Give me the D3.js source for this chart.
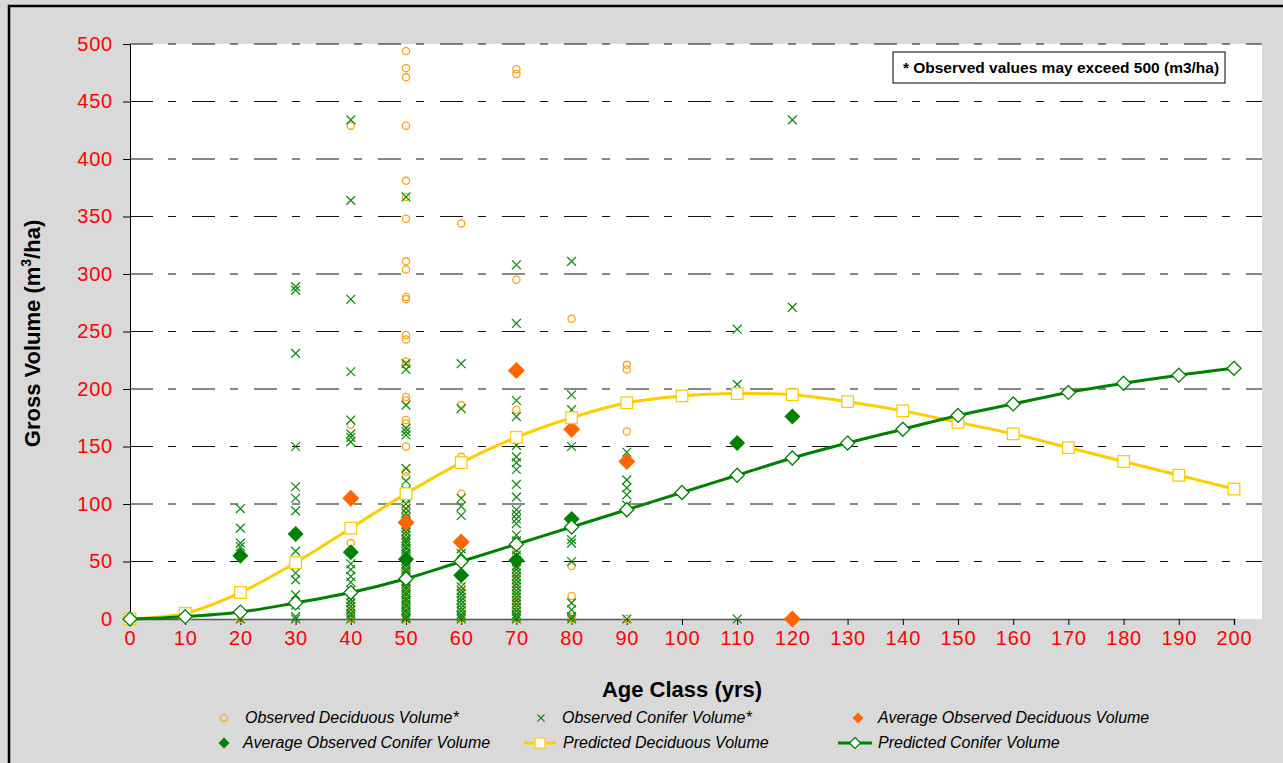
<!DOCTYPE html>
<html>
<head>
<meta charset="utf-8">
<script src="https://cdn.jsdelivr.net/npm/d3@7"></script>
<style>
  html, body { margin: 0; padding: 0; background: #ffffff; }
  svg { display: block; font-family: Arial, "Liberation Sans", sans-serif; }
</style>
</head>
<body>
<svg id="chart" width="1283" height="763"></svg>
<script>
// ---- Data -------------------------------------------------------------
const ageClasses = [0,10,20,30,40,50,60,70,80,90,100,110,120,130,140,150,160,170,180,190,200];
const yTicks = [0,50,100,150,200,250,300,350,400,450,500];

// Predicted volume curves (m3/ha) per age class
const predictedDeciduous = [0,5,23,49,79,109,136,158,175,188,194,196,195,189,181,171,161,149,137,125,113];
const predictedConifer   = [0,2,6,14,23,35,50,65,80,95,110,125,140,153,165,177,187,197,205,212,218];

// Average observed volumes
const avgDecidAges   = [40,50,60,70,80,90,120];
const avgDecidValues = [105,84,67,216,165,137,0];
const avgConifAges   = [20,30,40,50,60,70,80,110,120];
const avgConifValues = [55,74,58,52,38,51,87,153,176];

// Observed plot volumes, grouped by age class
const obsDeciduous = [
  [0,  [0]],
  [20, [0]],
  [40, [429,169,66,12,5,0]],
  [50, [494,479,471,429,381,367,348,311,304,280,278,247,243,224,221,193,190,173,170,150,128,124,
        99,90,84,78,72,67,62,58,54,50,45,40,35,30,26,22,18,15,11,8,5,3,0]],
  [60, [344,186,141,109,28,20,12,5,0]],
  [70, [478,474,295,182,60,48,40,33,25,19,15,10,5,0]],
  [80, [261,46,20,2,0]],
  [90, [221,217,163,0]]
];
const obsConifer = [
  [20, [96,79,66,63,0]],
  [30, [289,286,231,150,115,105,94,59,40,34,21,12,2,0]],
  [40, [434,364,278,215,173,161,158,154,48,43,37,32,25,20,17,14,11,8,5,3,0]],
  [50, [367,222,217,186,166,163,160,131,120,112,105,100,96,92,88,85,82,79,76,73,70,68,66,63,61,58,56,
        53,51,48,46,43,41,38,36,33,31,28,26,23,21,18,16,13,11,8,6,3,1,0]],
  [60, [222,183,105,98,90,61,57,28,25,22,19,16,13,10,7,4,2,0]],
  [70, [308,257,190,176,151,141,136,130,117,106,95,91,87,83,73,68,60,55,51,46,43,40,37,34,31,28,25,
        22,19,16,13,10,7,4,2,0]],
  [80, [311,195,182,150,69,66,50,14,8,2,0]],
  [90, [145,121,114,108,99,0]],
  [110,[252,204,0]],
  [120,[434,271]]
];

const legendLabels = [
  "Observed Deciduous Volume*", "Observed Conifer Volume*", "Average Observed  Deciduous Volume",
  "Average Observed Conifer Volume", "Predicted Deciduous Volume", "Predicted Conifer Volume"
];
const noteText = "* Observed values may exceed 500 (m3/ha)";

// ---- Styles -----------------------------------------------------------
const C = {
  bg: "#d9d9d9", obsDec: "#ffa41c", obsCon: "#158a15", avgDec: "#ff6600",
  avgCon: "#008000", predDec: "#ffcc00", predCon: "#008000", tick: "#ff0000"
};

const svg = d3.select("#chart");
const W = 1283, H = 763;
const plot = { left: 130, right: 1262, top: 44, bottom: 619 };

const x = d3.scaleLinear().domain([0, 200]).range([130, 1234]);
const y = d3.scaleLinear().domain([0, 500]).range([plot.bottom, plot.top]);

// chart area and frame
svg.append("rect").attr("x", 0).attr("y", 0).attr("width", W).attr("height", H).attr("fill", C.bg);
svg.append("rect").attr("x", 9).attr("y", 6).attr("width", W + 10).attr("height", H + 10)
  .attr("fill", "none").attr("stroke", "#000").attr("stroke-width", 2.5);

// plot area
svg.append("rect").attr("x", plot.left).attr("y", plot.top)
  .attr("width", plot.right - plot.left).attr("height", plot.bottom - plot.top)
  .attr("fill", "#ffffff");

// dashed gridlines
svg.append("g").selectAll("line").data(yTicks.filter(d => d > 0)).join("line")
  .attr("x1", plot.left).attr("x2", plot.right)
  .attr("y1", d => y(d)).attr("y2", d => y(d))
  .attr("stroke", "#111").attr("stroke-width", 1.2)
  .attr("stroke-dasharray", "23,15,8,16");

// axes
const yAxis = svg.append("g").attr("transform", `translate(${plot.left},0)`)
  .call(d3.axisLeft(y).tickValues(yTicks).tickSize(7).tickPadding(10).tickFormat(d3.format("d")));
const xAxis = svg.append("g").attr("transform", `translate(0,${plot.bottom})`)
  .call(d3.axisBottom(x).tickValues(ageClasses).tickSize(6).tickPadding(6).tickFormat(d3.format("d")));
[yAxis, xAxis].forEach(g => {
  g.selectAll("text").attr("fill", C.tick).attr("font-size", 20).attr("letter-spacing", 0.8)
    .attr("font-family", "Arial, 'Liberation Sans', sans-serif");
  g.selectAll("line").attr("stroke", "#000");
  g.select(".domain").attr("stroke", "#000");
});
xAxis.select(".domain").attr("stroke", "#555").attr("stroke-width", 1.5);

// axis titles
const yTitle = svg.append("text")
  .attr("transform", `translate(40,${(plot.top + plot.bottom) / 2 + 2}) rotate(-90)`)
  .attr("text-anchor", "middle").attr("font-size", 22).attr("font-weight", "bold");
yTitle.append("tspan").text("Gross Volume (m");
yTitle.append("tspan").attr("font-size", 14).attr("dy", -9).text("3");
yTitle.append("tspan").attr("dy", 9).text("/ha)");

svg.append("text").attr("x", 682).attr("y", 697).attr("text-anchor", "middle")
  .attr("font-size", 22).attr("font-weight", "bold").text("Age Class (yrs)");

// note box
svg.append("rect").attr("x", 893).attr("y", 52).attr("width", 332).attr("height", 31)
  .attr("fill", "#fff").attr("stroke", "#000").attr("stroke-width", 1);
svg.append("text").attr("x", 1061).attr("y", 73).attr("text-anchor", "middle")
  .attr("font-size", 15.5).attr("font-weight", "bold").text(noteText);

// ---- marker helpers ----
const diamond = (s) => `M0,${-s}L${s},0L0,${s}L${-s},0Z`;
const cross = (s) => `M${-s},${-s}L${s},${s}M${-s},${s}L${s},${-s}`;

const flatten = arr => arr.flatMap(([age, vals]) => vals.map(v => ({ age, v })));

// observed deciduous: open circles
svg.append("g").selectAll("circle").data(flatten(obsDeciduous)).join("circle")
  .attr("cx", d => x(d.age)).attr("cy", d => y(d.v)).attr("r", 3.6)
  .attr("fill", "none").attr("stroke", C.obsDec).attr("stroke-width", 1.3);

// observed conifer: crosses
svg.append("g").selectAll("path").data(flatten(obsConifer)).join("path")
  .attr("transform", d => `translate(${x(d.age)},${y(d.v)})`)
  .attr("d", cross(4.4)).attr("stroke", C.obsCon).attr("stroke-width", 1.3).attr("fill", "none");

// average observed deciduous: filled diamonds
svg.append("g").selectAll("path").data(avgDecidAges).join("path")
  .attr("transform", (a, i) => `translate(${x(a)},${y(avgDecidValues[i])})`)
  .attr("d", diamond(8.5)).attr("fill", C.avgDec);

// average observed conifer: filled diamonds
svg.append("g").selectAll("path").data(avgConifAges).join("path")
  .attr("transform", (a, i) => `translate(${x(a)},${y(avgConifValues[i])})`)
  .attr("d", diamond(8)).attr("fill", C.avgCon);

// predicted curves
const line = d3.line().curve(d3.curveCatmullRom.alpha(0.5)).x(d => x(d[0])).y(d => y(d[1]));
const predDec = ageClasses.map((a, i) => [a, predictedDeciduous[i]]);
const predCon = ageClasses.map((a, i) => [a, predictedConifer[i]]);

svg.append("path").attr("d", line(predDec)).attr("fill", "none")
  .attr("stroke", C.predDec).attr("stroke-width", 3);
svg.append("g").selectAll("rect").data(predDec).join("rect")
  .attr("x", d => x(d[0]) - 5.8).attr("y", d => y(d[1]) - 5.8).attr("width", 11.6).attr("height", 11.6)
  .attr("fill", "#fff").attr("stroke", C.predDec).attr("stroke-width", 1.3);

svg.append("path").attr("d", line(predCon)).attr("fill", "none")
  .attr("stroke", C.predCon).attr("stroke-width", 3);
svg.append("g").selectAll("path").data(predCon).join("path")
  .attr("transform", d => `translate(${x(d[0])},${y(d[1])})`)
  .attr("d", diamond(7)).attr("fill", "#fff").attr("stroke", C.predCon).attr("stroke-width", 1.3);

// ---- legend ----
const legendPos = [
  { mx: 224, tx: 245, y: 718 }, { mx: 541, tx: 562, y: 718 }, { mx: 858, tx: 878, y: 718 },
  { mx: 224, tx: 243, y: 743 }, { mx: 540, tx: 563, y: 743 }, { mx: 855, tx: 878, y: 743 }
];
const lg = svg.append("g").attr("font-size", 16).attr("font-style", "italic");
legendLabels.forEach((label, i) => {
  const p = legendPos[i];
  const g = lg.append("g");
  if (i === 0) g.append("circle").attr("cx", p.mx).attr("cy", p.y).attr("r", 3.3)
    .attr("fill", "none").attr("stroke", C.obsDec).attr("stroke-width", 1.1);
  if (i === 1) g.append("path").attr("transform", `translate(${p.mx},${p.y})`).attr("d", cross(3.5))
    .attr("stroke", C.obsCon).attr("stroke-width", 1.1);
  if (i === 2) g.append("path").attr("transform", `translate(${p.mx},${p.y})`).attr("d", diamond(5.5)).attr("fill", C.avgDec);
  if (i === 3) g.append("path").attr("transform", `translate(${p.mx},${p.y})`).attr("d", diamond(5.5)).attr("fill", C.avgCon);
  if (i === 4) {
    g.append("line").attr("x1", p.mx - 16).attr("x2", p.mx + 16).attr("y1", p.y).attr("y2", p.y)
      .attr("stroke", C.predDec).attr("stroke-width", 3);
    g.append("rect").attr("x", p.mx - 5).attr("y", p.y - 5).attr("width", 10).attr("height", 10)
      .attr("fill", "#fff").attr("stroke", C.predDec).attr("stroke-width", 1.2);
  }
  if (i === 5) {
    g.append("line").attr("x1", p.mx - 17).attr("x2", p.mx + 17).attr("y1", p.y).attr("y2", p.y)
      .attr("stroke", C.predCon).attr("stroke-width", 3);
    g.append("path").attr("transform", `translate(${p.mx},${p.y})`).attr("d", diamond(5.5))
      .attr("fill", "#fff").attr("stroke", C.predCon).attr("stroke-width", 1.2);
  }
  g.append("text").attr("x", p.tx).attr("y", p.y + 5).text(label);
});
</script>
</body>
</html>
